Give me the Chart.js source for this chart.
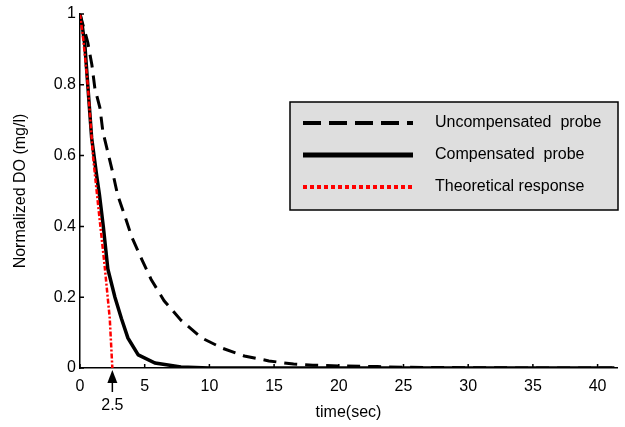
<!doctype html>
<html lang="en">
  <head>
    <meta charset="utf-8">
    <title>Normalized DO response</title>
    <style>
      * { margin: 0; padding: 0; }
      body { background: #fff; }
    </style>
  </head>
  <body>
    <canvas id="doChart" width="625" height="427"></canvas>

    <script src="https://cdn.jsdelivr.net/npm/chart.js"></script>
    <script>
    // setup
    const uncompT = [0, 0.3, 0.6, 0.92, 1.15, 1.54, 1.77, 2.15, 2.54, 2.9, 3.46, 4.0, 4.8, 5.5, 6.5, 7.8, 9.4, 11, 12.7, 14.6, 16.5, 18, 20, 23, 25, 30, 35, 41.3];
    const uncompDO = [1, 0.96, 0.92, 0.856, 0.79, 0.735, 0.667, 0.61, 0.55, 0.49, 0.43, 0.37, 0.305, 0.25, 0.19, 0.135, 0.085, 0.056, 0.034, 0.02, 0.011, 0.008, 0.006, 0.004, 0.002, 0.001, 0, 0];

    const compT = [0, 0.2, 0.38, 0.6, 0.9, 1.3, 1.5, 1.8, 2.15, 2.7, 3.2, 3.7, 4.5, 5.8, 7.8, 10, 41.3];
    const compDO = [1, 0.96, 0.91, 0.80, 0.65, 0.54, 0.49, 0.40, 0.28, 0.20, 0.14, 0.085, 0.037, 0.014, 0.003, 0, 0];

    const theoT = [0, 0.25, 0.6, 1.0, 1.4, 1.9, 2.3, 2.5];
    const theoDO = [1, 0.93, 0.80, 0.60, 0.46, 0.29, 0.14, 0];

    const xTicks = [0, 5, 10, 15, 20, 25, 30, 35, 40];
    const yTicks = [0, 0.2, 0.4, 0.6, 0.8, 1];
    const markTime = 2.5;

    const seriesNames = ['Uncompensated  probe', 'Compensated  probe', 'Theoretical response'];

    const FONT = '"Liberation Sans", Arial, sans-serif';

    function pts(ts, vs) {
      return ts.map((t, i) => ({ x: t, y: vs[i] }));
    }

    // small inward ticks on both axes
    const innerTicks = {
      id: 'innerTicks',
      afterDatasetsDraw(chart) {
        const { ctx, chartArea: a, scales: { x, y } } = chart;
        ctx.save();
        ctx.strokeStyle = '#000';
        ctx.lineWidth = 1.5;
        ctx.beginPath();
        yTicks.forEach(v => {
          const py = y.getPixelForValue(v);
          ctx.moveTo(a.left, py);
          ctx.lineTo(a.left + 4, py);
        });
        xTicks.forEach(v => {
          const px = x.getPixelForValue(v);
          ctx.moveTo(px, a.bottom);
          ctx.lineTo(px, a.bottom - 4);
        });
        ctx.stroke();
        ctx.restore();
      }
    };

    // arrow under the x axis marking the theoretical zero crossing
    const markArrow = {
      id: 'markArrow',
      afterDraw(chart) {
        const { ctx, chartArea: a, scales: { x } } = chart;
        const px = x.getPixelForValue(markTime);
        ctx.save();
        ctx.fillStyle = '#000';
        ctx.strokeStyle = '#000';
        ctx.lineWidth = 1.5;
        ctx.beginPath();
        ctx.moveTo(px, a.bottom + 2);
        ctx.lineTo(px - 5, a.bottom + 15);
        ctx.lineTo(px + 5, a.bottom + 15);
        ctx.closePath();
        ctx.fill();
        ctx.beginPath();
        ctx.moveTo(px, a.bottom + 12);
        ctx.lineTo(px, a.bottom + 24);
        ctx.stroke();
        ctx.font = '16px ' + FONT;
        ctx.textAlign = 'center';
        ctx.textBaseline = 'middle';
        ctx.fillText(String(markTime), px, a.bottom + 38);
        ctx.restore();
      }
    };

    // boxed legend in the upper right
    const boxLegend = {
      id: 'boxLegend',
      afterDraw(chart) {
        const { ctx } = chart;
        const bx = 290, by = 102, bw = 328, bh = 108;
        ctx.save();
        ctx.fillStyle = '#dedede';
        ctx.fillRect(bx, by, bw, bh);
        ctx.strokeStyle = '#000';
        ctx.lineWidth = 1.5;
        ctx.strokeRect(bx, by, bw, bh);
        const rows = [123, 155, 187];
        chart.data.datasets.forEach((ds, i) => {
          const ry = rows[i];
          ctx.save();
          ctx.strokeStyle = ds.borderColor;
          ctx.lineWidth = ds.legendWidth;
          ctx.setLineDash(ds.legendDash);
          ctx.beginPath();
          ctx.moveTo(303, ry);
          ctx.lineTo(413, ry);
          ctx.stroke();
          ctx.restore();
          ctx.fillStyle = '#000';
          ctx.font = '16px ' + FONT;
          ctx.textAlign = 'left';
          ctx.textBaseline = 'middle';
          ctx.fillText(seriesNames[i], 435, ry);
        });
        ctx.restore();
      }
    };

    const data = {
      datasets: [{
        label: seriesNames[0],
        data: pts(uncompT, uncompDO),
        borderColor: '#000',
        borderWidth: 3,
        borderDash: [13, 8],
        legendWidth: 4,
        legendDash: [18, 8],
        order: 2
      }, {
        label: seriesNames[1],
        data: pts(compT, compDO),
        borderColor: '#000',
        borderWidth: 3.5,
        borderDash: [],
        legendWidth: 5,
        legendDash: [],
        order: 1
      }, {
        label: seriesNames[2],
        data: pts(theoT, theoDO),
        borderColor: '#ff0000',
        borderWidth: 2.5,
        borderDash: [5, 2, 2, 2],
        legendWidth: 4,
        legendDash: [4, 3],
        order: 0
      }]
    };

    // config
    const config = {
      type: 'line',
      data,
      options: {
        responsive: false,
        animation: false,
        layout: { padding: { left: 0, right: 8, top: 14, bottom: 0 } },
        elements: {
          point: { radius: 0 },
          line: { tension: 0, fill: false }
        },
        plugins: {
          legend: { display: false },
          tooltip: { enabled: false }
        },
        scales: {
          x: {
            type: 'linear',
            min: 0,
            max: 41.5,
            afterFit(s) { s.height = 59; },
            afterBuildTicks(s) { s.ticks = xTicks.map(v => ({ value: v })); },
            grid: { display: false, drawTicks: false },
            border: { display: true, color: '#000', width: 1.5 },
            ticks: {
              padding: 9,
              color: '#000',
              font: { family: FONT, size: 16 }
            },
            title: {
              display: true,
              text: 'time(sec)',
              color: '#000',
              font: { family: FONT, size: 16 },
              padding: { top: 0, bottom: 5 }
            }
          },
          y: {
            min: 0,
            max: 1,
            afterFit(s) { s.width = 80; },
            afterBuildTicks(s) { s.ticks = yTicks.map(v => ({ value: v })); },
            grid: { display: false, drawTicks: false },
            border: { display: true, color: '#000', width: 1.5 },
            ticks: {
              padding: 4,
              color: '#000',
              font: { family: FONT, size: 16 },
              callback: v => String(v)
            },
            title: {
              display: true,
              text: 'Normalized DO (mg/l)',
              color: '#000',
              font: { family: FONT, size: 16 },
              padding: { top: 11, bottom: 0 }
            }
          }
        }
      },
      plugins: [innerTicks, markArrow, boxLegend]
    };

    // render init block
    const doChart = new Chart(document.getElementById('doChart'), config);
    </script>
  </body>
</html>
